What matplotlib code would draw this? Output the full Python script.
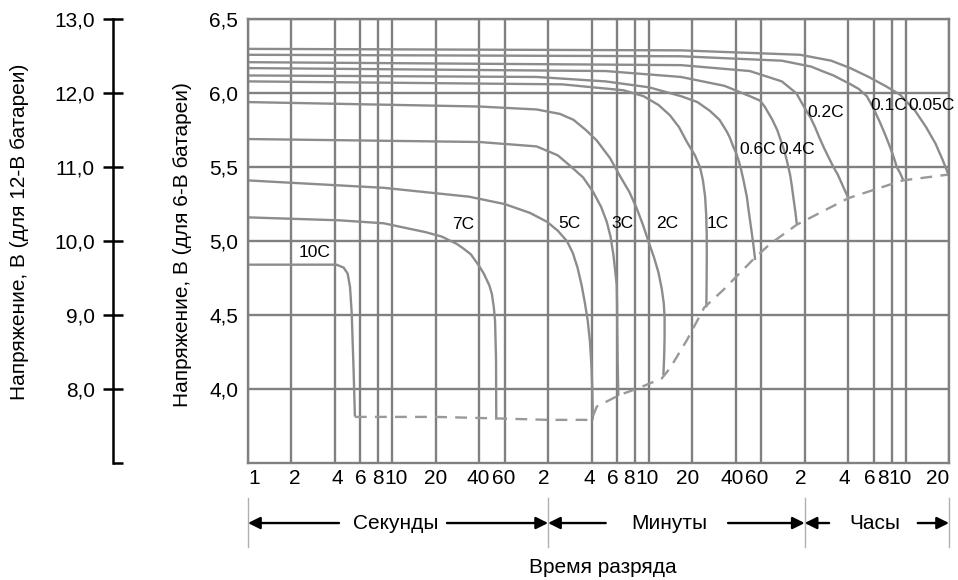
import matplotlib.pyplot as plt
from matplotlib.ticker import FixedLocator, NullLocator
from matplotlib.transforms import blended_transform_factory

plt.rcParams['font.family'] = ['Liberation Sans', 'DejaVu Sans']

# discharge curves of a 6-V battery: time in seconds, voltage in volts
t_10c = [1, 2, 3.5, 4.1, 4.6, 4.9, 5.09, 5.23, 5.38, 5.5]
v_10c = [4.84, 4.84, 4.84, 4.84, 4.82, 4.78, 4.69, 4.51, 4.15, 3.82]

t_7c = [1, 4.3, 8.7, 17, 22, 28, 31, 35, 40, 43, 47, 49, 50.5, 51.5, 52.3, 52.5]
v_7c = [5.16, 5.14, 5.12, 5.06, 5.03, 4.98, 4.95, 4.91, 4.83, 4.78, 4.70, 4.64, 4.55, 4.46, 4.2, 3.80]

t_5c = [1, 8.7, 34, 60, 90, 118, 140, 162, 178, 192, 205, 216, 226, 234, 240, 243, 245]
v_5c = [5.41, 5.36, 5.30, 5.25, 5.19, 5.13, 5.07, 5.0, 4.92, 4.82, 4.70, 4.58, 4.46, 4.32, 4.15, 4.0, 3.80]

t_3c = [1, 40, 100, 140, 170, 210, 247, 280, 306, 325, 340, 350, 359, 361, 362, 364, 368]
v_3c = [5.69, 5.67, 5.64, 5.58, 5.51, 5.43, 5.33, 5.23, 5.13, 5.03, 4.91, 4.80, 4.70, 4.55, 4.39, 4.20, 3.96]

t_2c = [1, 40, 100, 145, 180, 220, 261, 323, 378, 440, 494, 545, 594, 650, 697, 735, 760, 770, 770, 765, 756]
v_2c = [5.94, 5.91, 5.89, 5.86, 5.82, 5.75, 5.68, 5.56, 5.44, 5.33, 5.22, 5.11, 5.0, 4.89, 4.79, 4.68, 4.58,
        4.48, 4.35, 4.22, 4.10]

t_1c = [1, 150, 400, 550, 700, 840, 970, 1100, 1250, 1355, 1420, 1470, 1495, 1508, 1510, 1505, 1500]
v_1c = [6.08, 6.06, 6.02, 5.98, 5.92, 5.85, 5.77, 5.67, 5.58, 5.50, 5.41, 5.30, 5.18, 5.05, 4.90, 4.70, 4.56]

t_06c = [1, 100, 300, 600, 1000, 1300, 1590, 1850, 2080, 2180, 2300, 2400, 2500, 2600, 2700, 2860, 2950,
         3050, 3170, 3260]
v_06c = [6.12, 6.11, 6.08, 6.04, 5.98, 5.94, 5.88, 5.82, 5.74, 5.70, 5.64, 5.60, 5.55, 5.49, 5.42, 5.30, 5.20,
         5.10, 4.98, 4.88]

t_04c = [1, 300, 1000, 2000, 3000, 3530, 3800, 4300, 4650, 5000, 5200, 5400, 5700, 5850, 6000, 6200, 6340]
v_04c = [6.17, 6.15, 6.11, 6.05, 5.98, 5.95, 5.91, 5.82, 5.75, 5.66, 5.61, 5.55, 5.45, 5.38, 5.30, 5.20, 5.12]

t_02c = [1, 1000, 3000, 5000, 6300, 7400, 7950, 8500, 9100, 9800, 10500, 11400, 12200, 13000, 13700, 14460]
v_02c = [6.21, 6.19, 6.15, 6.08, 6.00, 5.88, 5.83, 5.77, 5.70, 5.63, 5.57, 5.50, 5.45, 5.39, 5.34, 5.29]

t_01c = [1, 1000, 5000, 8000, 9500, 11400, 15000, 17000, 19400, 20700, 22000, 24000, 26000, 27500, 29000,
         30200, 31300, 33000, 34400]
v_01c = [6.26, 6.25, 6.22, 6.18, 6.15, 6.12, 6.06, 6.03, 5.98, 5.93, 5.88, 5.80, 5.72, 5.66, 5.60,
         5.55, 5.50, 5.46, 5.42]

t_005c = [1, 1000, 6700, 11000, 14900, 20000, 26000, 33000, 42000, 50000, 58000, 65000, 72000]
v_005c = [6.30, 6.29, 6.26, 6.22, 6.17, 6.11, 6.05, 5.99, 5.88, 5.77, 5.66, 5.55, 5.44]

# final (cut-off) voltage, dashed
t_cut = [5.5, 20, 52, 120, 240, 261, 378, 494, 736, 840, 1100, 1450, 1970, 3200, 4140, 6340, 14460, 34400, 72000]
v_cut = [3.81, 3.81, 3.80, 3.79, 3.79, 3.88, 3.96, 4.0, 4.07, 4.14, 4.33, 4.55, 4.67, 4.88, 4.98, 5.11, 5.29,
         5.41, 5.45]

curve_t = [t_10c, t_7c, t_5c, t_3c, t_2c, t_1c, t_06c, t_04c, t_02c, t_01c, t_005c]
curve_v = [v_10c, v_7c, v_5c, v_3c, v_2c, v_1c, v_06c, v_04c, v_02c, v_01c, v_005c]
curve_names = ['10C', '7C', '5C', '3C', '2C', '1C', '0.6C', '0.4C', '0.2C', '0.1C', '0.05C']
label_t = [2.9, 31, 170, 391, 801, 1807, 3420, 6380, 10130, 27700, 54100]
label_v = [4.92, 5.115, 5.12, 5.12, 5.12, 5.12, 5.62, 5.62, 5.867, 5.92, 5.92]

x_ticks = [1, 2, 4, 6, 8, 10, 20, 40, 60,
           120, 240, 360, 480, 600, 1200, 2400, 3600,
           7200, 14400, 21600, 28800, 36000, 72000]
x_labels = ['1', '2', '4', '6', '8', '10', '20', '40', '60',
            '2', '4', '6', '8', '10', '20', '40', '60',
            '2', '4', '6', '8', '10', '20']
y_ticks = [4.0, 4.5, 5.0, 5.5, 6.0, 6.5]
y_labels = ['4,0', '4,5', '5,0', '5,5', '6,0', '6,5']
y12_ticks = [8, 9, 10, 11, 12, 13]
y12_labels = ['8,0', '9,0', '10,0', '11,0', '12,0', '13,0']

# small horizontal shifts (px) of crowded tick labels, as in the original
x_label_shift = [0, 3, 2, 0, 0, 4, 0, -1, -1,
                 -4, -2, -4, -6, -2, -5, -4, -5,
                 -4, -4, -4, -9, -5, 0]

GRID = '#808080'
CURVE = '#8c8c8c'
FS = 15

fig = plt.figure(figsize=(9.58, 5.8), dpi=100)
ax = fig.add_axes([0.2589, 0.2022, 0.7317, 0.7645])
ax.set_xscale('log')
ax.set_xlim(1, 72000)
ax.set_ylim(3.5, 6.5)

ax.set_xticks(x_ticks, [''] * len(x_ticks))
ax.xaxis.set_minor_locator(NullLocator())
ax.set_yticks(y_ticks, y_labels)
ax.tick_params(axis='both', length=0, labelsize=FS)
ax.tick_params(axis='y', pad=7)
ax.grid(True, color=GRID, lw=1.7, zorder=0)
ax.set_axisbelow(True)
for s in ax.spines.values():
    s.set_color(GRID)
    s.set_linewidth(1.7)

tr = blended_transform_factory(ax.transData, ax.transAxes)
for i, (xt, lbl, dx) in enumerate(zip(x_ticks, x_labels, x_label_shift)):
    ha = 'left' if i == 0 else ('right' if i == len(x_ticks) - 1 else 'center')
    ax.annotate(lbl, xy=(xt, 0), xycoords=tr, xytext=(dx * 0.72, -4.5),
                textcoords='offset points', ha=ha, va='top', fontsize=FS,
                annotation_clip=False)

for t, v in zip(curve_t, curve_v):
    ax.plot(t, v, color=CURVE, lw=1.7, zorder=2)
ax.plot(t_cut, v_cut, color='#999999', lw=1.7, ls=(0, (5, 3.5)), zorder=2)

for name, lt, lv in zip(curve_names, label_t, label_v):
    ax.text(lt, lv, name, ha='center', va='center', fontsize=12.5, zorder=3,
            clip_on=False)

# time ranges under the axis
y_row = -0.136
for xs in [1, 120, 7200, 72000]:
    ax.plot([xs, xs], [-0.08, -0.19], transform=tr, color='#b0b0b0', lw=1, clip_on=False)

ranges = [('Секунды', 10.6, 4.27, 23.9, 1, 120),
          ('Минуты', 827, 301, 2120, 120, 7200),
          ('Часы', 22130, 10630, 43750, 7200, 72000)]
arrow = dict(arrowstyle='-|>', color='black', lw=1.7, mutation_scale=18,
             shrinkA=0, shrinkB=0)
for name, xc, xa, xb, x0, x1 in ranges:
    ax.text(xc, y_row, name, transform=tr, ha='center', va='center', fontsize=FS)
    ax.annotate('', xy=(x0, y_row), xytext=(xa, y_row), xycoords=tr, textcoords=tr,
                arrowprops=arrow, annotation_clip=False)
    ax.annotate('', xy=(x1, y_row), xytext=(xb, y_row), xycoords=tr, textcoords=tr,
                arrowprops=arrow, annotation_clip=False)

fig.text(603 / 958, 0.0207, 'Время разряда', ha='center', va='center', fontsize=FS)

# scale for the 12-V battery
ax12 = fig.add_axes([113 / 958, 0.2022, 0.0001, 0.7645])
ax12.set_ylim(7, 13)
ax12.patch.set_visible(False)
for s in ['top', 'right', 'bottom']:
    ax12.spines[s].set_visible(False)
ax12.spines['left'].set_linewidth(1.8)
ax12.set_xticks([])
ax12.set_yticks(y12_ticks, y12_labels)
ax12.yaxis.set_minor_locator(FixedLocator([7]))
ax12.tick_params(axis='y', which='major', direction='inout', length=15, width=1.8,
                 labelsize=FS, pad=5.5)
ax12.tick_params(axis='y', which='minor', direction='in', length=7.5, width=1.8)

fig.text(20 / 958, 1 - 232 / 580, 'Напряжение, В (для 12-В батареи)',
         rotation=90, ha='center', va='center', fontsize=FS)
fig.text(183 / 958, 1 - 245 / 580, 'Напряжение, В (для 6-В батареи)',
         rotation=90, ha='center', va='center', fontsize=FS)

fig.savefig('out.png', dpi=100)
